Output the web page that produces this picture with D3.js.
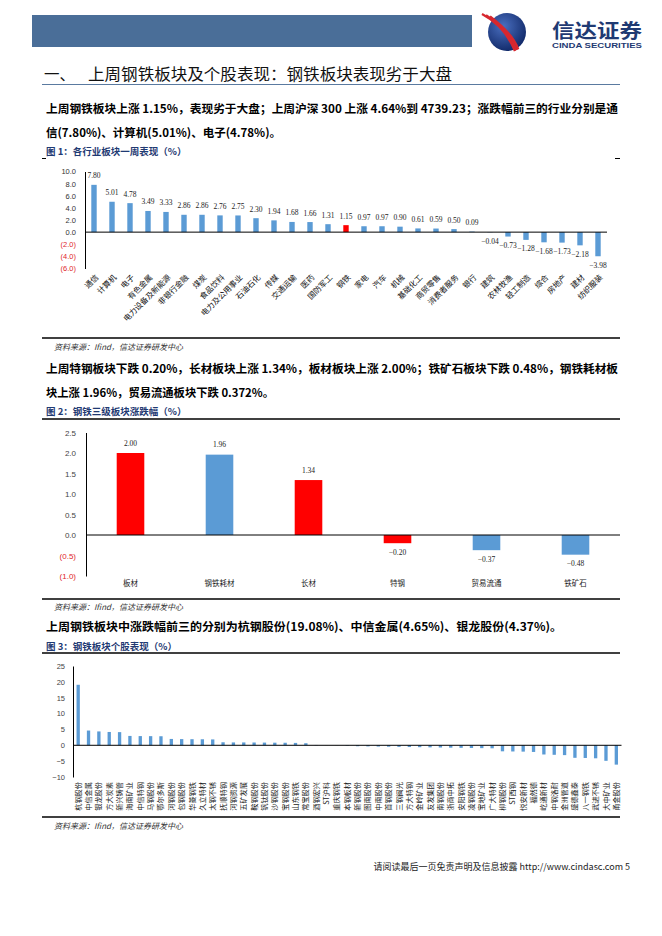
<!DOCTYPE html>
<html>
<head>
<meta charset="utf-8">
<script src="https://cdn.jsdelivr.net/npm/d3@7"></script>
<style>
  body { margin: 0; background: #fff; }
</style>
</head>
<body>
<div class="page"></div>
<script>
// Figure 1: weekly change by industry (%)
var industries = ['通信', '计算机', '电子', '有色金属', '电力设备及新能源', '非银行金融', '煤炭', '食品饮料',
  '电力及公用事业', '石油石化', '传媒', '交通运输', '医药', '国防军工', '钢铁', '家电', '汽车', '机械',
  '基础化工', '商贸零售', '消费者服务', '银行', '建筑', '农林牧渔', '轻工制造', '综合', '房地产', '建材', '纺织服装'];
var industryChange = [7.80, 5.01, 4.78, 3.49, 3.33, 2.86, 2.86, 2.76, 2.75, 2.30, 1.94, 1.68, 1.66, 1.31, 1.15,
  0.97, 0.97, 0.90, 0.61, 0.59, 0.50, 0.09, -0.04, -0.73, -1.28, -1.68, -1.73, -2.18, -3.98];
var industryTicks = [10, 8, 6, 4, 2, 0, -2, -4, -6];
var highlightIndustry = '钢铁';

// Figure 2: steel sub-sectors (%)
var subSectors = ['板材', '钢铁耗材', '长材', '特钢', '贸易流通', '铁矿石'];
var subSectorChange = [2.00, 1.96, 1.34, -0.20, -0.37, -0.48];
var subSectorTicks = [2.5, 2.0, 1.5, 1.0, 0.5, 0, -0.5, -1.0];
var highlightSubSectors = ['板材', '长材', '特钢'];

// Figure 3: individual steel stocks (%)
var stocks = ['杭钢股份', '中信金属', '银龙股份', '方大炭素', '新兴铸管', '海南矿业', '中信特钢', '马钢股份',
  '鄂尔多斯', '河钢股份', '包钢股份', '华菱钢铁', '久立特材', '太钢不锈', '抚顺特钢', '河钢资源', '五矿发展',
  '鞍钢股份', '钒钛股份', '沙钢股份', '宝钢股份', '山东钢铁', '常宝股份', '酒钢宏兴', 'ST沪科', '重庆钢铁',
  '本钢板材', '新钢股份', '图南股份', '中南股份', '首钢股份', '三钢闽光', '方大特钢', '金岭矿业', '友发集团',
  '南钢股份', '浙商中拓', '安阳钢铁', '凌钢股份', '宝地矿业', '广大特材', '柳钢股份', 'ST西钢', '悦安新材',
  '福然德', '屹通新材', '中钢洛耐', '金洲管道', '盛德鑫泰', '八一钢铁', '武进不锈', '大中矿业', '甬金股份'];
var stockChange = [19.08, 4.65, 4.37, 4.20, 4.15, 2.95, 2.90, 2.88, 2.85, 2.00, 1.95, 1.92, 1.90, 1.85,
  0.95, 0.90, 0.90, 0.88, 0.85, 0.82, 0.80, 0.75, 0.65, 0.10, 0.03, -0.05, -0.15, -0.30, -0.35, -0.40,
  -0.45, -0.50, -0.55, -0.60, -0.65, -0.70, -0.75, -0.80, -0.85, -0.90, -0.95, -1.90, -1.95, -2.00,
  -2.10, -2.90, -3.00, -3.10, -3.95, -4.00, -4.10, -4.90, -6.10];
var stockTicks = [25, 20, 15, 10, 5, 0, -5, -10];

var svgWidth = 662;
var svgHeight = 936;
var blue = '#5b9bd5';
var red = '#ff0000';
var navy = '#1f3a73';
var cjk = '"Noto Sans CJK SC", sans-serif';
var serif = '"Liberation Serif", "Times New Roman", serif';
var sans = '"Liberation Sans", Arial, sans-serif';

var svg = d3.select('.page')
  .append('svg')
  .attr('width', svgWidth)
  .attr('height', svgHeight);

svg.append('rect').attr('width', svgWidth).attr('height', svgHeight).attr('fill', '#fff');

function addText(g, x, y, str, size, opts) {
  opts = opts || {};
  var t = g.append('text')
    .attr('x', x)
    .attr('y', y)
    .attr('dominant-baseline', 'central')
    .attr('font-family', opts.family || cjk)
    .attr('font-size', size)
    .attr('font-weight', opts.weight || 'normal')
    .attr('fill', opts.fill || '#000')
    .text(str);
  if (opts.width) t.attr('textLength', opts.width).attr('lengthAdjust', 'spacingAndGlyphs');
  if (opts.anchor) t.attr('text-anchor', opts.anchor);
  if (opts.style) t.attr('font-style', opts.style);
  return t;
}

function hline(y, x1, x2, color, w) {
  svg.append('line')
    .attr('x1', x1).attr('x2', x2)
    .attr('y1', y).attr('y2', y)
    .attr('stroke', color).attr('stroke-width', w);
}

function negFormat(digits) {
  var f = d3.format('.' + digits + 'f');
  return function(v) { return v < 0 ? '(' + f(-v) + ')' : f(v); };
}

// Header band and logo
// ==============================
svg.append('rect')
  .attr('x', 32).attr('y', 15)
  .attr('width', 440).attr('height', 32)
  .attr('fill', '#4a6e98');

var defs = svg.append('defs');
var grad = defs.append('radialGradient').attr('id', 'globe').attr('cx', '40%').attr('cy', '35%').attr('r', '70%');
grad.append('stop').attr('offset', '0%').attr('stop-color', '#4a6fc0');
grad.append('stop').attr('offset', '100%').attr('stop-color', '#0f2766');

var logo = svg.append('g').attr('transform', 'translate(507,32)');
logo.append('circle').attr('r', 19).attr('fill', 'url(#globe)');
[0, 4, 8].forEach(function(o) {
  logo.append('path')
    .attr('d', 'M' + (-25 + o) + ',' + (-18 + o * 0.3) + ' Q' + (-2 + o) + ',' + (-6 + o) + ' ' + (8 + o * 0.4) + ',' + (19 - o * 0.2))
    .attr('fill', 'none')
    .attr('stroke', '#d7282f')
    .attr('stroke-width', 2.4);
});
addText(svg, 552, 29, '信达证券', 19, { weight: 'bold', fill: navy, width: 90 });
addText(svg, 552, 45, 'CINDA SECURITIES', 7, { weight: 'bold', fill: navy, family: sans, width: 90 });

// Section title and text
// ==============================
addText(svg, 44, 73, '一、', 15.5, { fill: '#111' });
addText(svg, 88, 73, '上周钢铁板块及个股表现：钢铁板块表现劣于大盘', 15.5, { fill: '#111', width: 364 });
hline(84.5, 42, 620, '#5a7aa0', 1);

addText(svg, 46, 108, '上周钢铁板块上涨 1.15%，表现劣于大盘；上周沪深 300 上涨 4.64%到 4739.23；涨跌幅前三的行业分别是通', 11.5, { weight: 'bold', width: 572 });
addText(svg, 46, 132, '信(7.80%)、计算机(5.01%)、电子(4.78%)。', 11.5, { weight: 'bold', width: 235 });
addText(svg, 46, 151, '图 1：各行业板块一周表现（%）', 9.5, { weight: 'bold', fill: navy });
hline(158.5, 42, 46, '#000', 1);
hline(158.5, 615, 620, '#000', 1);

// Chart 1
// ==============================
var chart1 = svg.append('g');
var x1 = d3.scaleBand().domain(industries).range([85, 607]).paddingInner(0.7).paddingOuter(0.35);
var y1 = d3.scaleLinear().domain([-6, 10]).range([268.5, 171.5]);
var data1 = industries.map(function(d, i) { return { name: d, value: industryChange[i] }; });

chart1.append('g')
  .attr('transform', 'translate(85,0)')
  .call(d3.axisLeft(y1).tickValues(industryTicks).tickFormat(negFormat(1)).tickSize(0).tickPadding(9))
  .call(function(g) {
    g.select('.domain').attr('stroke', '#000');
    g.selectAll('text')
      .attr('font-family', sans).attr('font-size', 7.5)
      .attr('fill', function(d) { return d < 0 ? '#e0262b' : '#333'; });
  });

chart1.selectAll('.bar1')
  .data(data1)
  .enter()
  .append('rect')
  .attr('x', function(d) { return x1(d.name); })
  .attr('width', x1.bandwidth())
  .attr('y', function(d) { return y1(Math.max(d.value, 0)); })
  .attr('height', function(d) { return Math.abs(y1(d.value) - y1(0)); })
  .attr('fill', function(d) { return d.name === highlightIndustry ? red : blue; });

chart1.append('line')
  .attr('x1', 85).attr('x2', 607)
  .attr('y1', y1(0)).attr('y2', y1(0))
  .attr('stroke', '#000');

chart1.selectAll('.val1')
  .data(data1)
  .enter()
  .append('text')
  .attr('x', function(d) { return x1(d.name) + x1.bandwidth() / 2; })
  .attr('y', function(d) { return d.value >= 0 ? y1(d.value) - 9 : y1(d.value) + 9; })
  .attr('text-anchor', 'middle')
  .attr('dominant-baseline', 'central')
  .attr('font-family', serif).attr('font-size', 7.5).attr('fill', '#222')
  .text(function(d) { return d3.format('.2f')(d.value); });

chart1.append('g')
  .attr('transform', 'translate(0,276)')
  .call(d3.axisBottom(x1).tickSize(0))
  .call(function(g) {
    g.select('.domain').remove();
    g.selectAll('text')
      .attr('x', 0).attr('y', 0).attr('dy', '0.35em')
      .attr('transform', 'translate(3,0) rotate(-45)')
      .attr('text-anchor', 'end')
      .attr('font-family', cjk).attr('font-size', 7.8).attr('fill', '#111');
  });

hline(338, 42, 620, '#000', 1.3);
addText(svg, 54, 346, '资料来源：Ifind，信达证券研发中心', 8, { fill: '#333', style: 'italic' });

// Paragraph 2
// ==============================
addText(svg, 46, 368, '上周特钢板块下跌 0.20%，长材板块上涨 1.34%，板材板块上涨 2.00%；铁矿石板块下跌 0.48%，钢铁耗材板', 11.5, { weight: 'bold', width: 572 });
addText(svg, 46, 392, '块上涨 1.96%，贸易流通板块下跌 0.372%。', 11.5, { weight: 'bold', width: 228 });
addText(svg, 46, 411, '图 2：钢铁三级板块涨跌幅（%）', 9.5, { weight: 'bold', fill: navy });
hline(419, 42, 620, '#000', 1.3);

// Chart 2
// ==============================
var chart2 = svg.append('g');
var x2 = d3.scaleBand().domain(subSectors).range([86, 620]).paddingInner(0.69).paddingOuter(0.345);
var y2 = d3.scaleLinear().domain([-1, 2.5]).range([576, 432.5]);
var data2 = subSectors.map(function(d, i) { return { name: d, value: subSectorChange[i] }; });

chart2.append('g')
  .attr('transform', 'translate(86,0)')
  .call(d3.axisLeft(y2).tickValues(subSectorTicks).tickFormat(negFormat(1)).tickSize(0).tickPadding(10))
  .call(function(g) {
    g.select('.domain').attr('stroke', '#000');
    g.selectAll('text')
      .attr('font-family', sans).attr('font-size', 8)
      .attr('fill', function(d) { return d < 0 ? '#e0262b' : '#444'; });
  });

chart2.selectAll('.bar2')
  .data(data2)
  .enter()
  .append('rect')
  .attr('x', function(d) { return x2(d.name); })
  .attr('width', x2.bandwidth())
  .attr('y', function(d) { return y2(Math.max(d.value, 0)); })
  .attr('height', function(d) { return Math.abs(y2(d.value) - y2(0)); })
  .attr('fill', function(d) { return highlightSubSectors.indexOf(d.name) >= 0 ? red : blue; });

chart2.append('line')
  .attr('x1', 86).attr('x2', 620)
  .attr('y1', y2(0)).attr('y2', y2(0))
  .attr('stroke', '#000');

chart2.selectAll('.val2')
  .data(data2)
  .enter()
  .append('text')
  .attr('x', function(d) { return x2(d.name) + x2.bandwidth() / 2; })
  .attr('y', function(d) { return d.value >= 0 ? y2(d.value) - 10 : y2(d.value) + 9; })
  .attr('text-anchor', 'middle')
  .attr('dominant-baseline', 'central')
  .attr('font-family', serif).attr('font-size', 7.5).attr('fill', '#222')
  .text(function(d) { return d3.format('.2f')(d.value); });

chart2.append('g')
  .attr('transform', 'translate(0,583)')
  .call(d3.axisBottom(x2).tickSize(0))
  .call(function(g) {
    g.select('.domain').remove();
    g.selectAll('text')
      .attr('y', 0).attr('dy', '0.35em')
      .attr('font-family', cjk).attr('font-size', 7.5).attr('fill', '#222');
  });

hline(599, 42, 620, '#000', 1.3);
addText(svg, 54, 606, '资料来源：Ifind，信达证券研发中心', 8, { fill: '#333', style: 'italic' });

// Paragraph 3
// ==============================
addText(svg, 46, 626, '上周钢铁板块中涨跌幅前三的分别为杭钢股份(19.08%)、中信金属(4.65%)、银龙股份(4.37%)。', 11.5, { weight: 'bold', width: 516 });
addText(svg, 46, 646, '图 3：钢铁板块个股表现（%）', 9.5, { weight: 'bold', fill: navy });
hline(653, 42, 620, '#000', 1.3);

// Chart 3
// ==============================
var chart3 = svg.append('g');
var x3 = d3.scaleBand().domain(stocks).range([73, 621.5]).paddingInner(0.68).paddingOuter(0.34);
var y3 = d3.scaleLinear().domain([-10, 25]).range([777, 666]);
var data3 = stocks.map(function(d, i) { return { name: d, value: stockChange[i] }; });

chart3.append('g')
  .attr('transform', 'translate(73,0)')
  .call(d3.axisLeft(y3).tickValues(stockTicks).tickSize(0).tickPadding(8))
  .call(function(g) {
    g.select('.domain').attr('stroke', '#000');
    g.selectAll('text').attr('font-family', sans).attr('font-size', 7.5).attr('fill', '#444');
  });

chart3.selectAll('.bar3')
  .data(data3)
  .enter()
  .append('rect')
  .attr('x', function(d) { return x3(d.name); })
  .attr('width', x3.bandwidth())
  .attr('y', function(d) { return y3(Math.max(d.value, 0)); })
  .attr('height', function(d) { return Math.abs(y3(d.value) - y3(0)); })
  .attr('fill', blue);

chart3.append('line')
  .attr('x1', 73).attr('x2', 621.5)
  .attr('y1', y3(0)).attr('y2', y3(0))
  .attr('stroke', '#000');

chart3.append('g')
  .attr('transform', 'translate(0,782)')
  .call(d3.axisBottom(x3).tickSize(0))
  .call(function(g) {
    g.select('.domain').remove();
    g.selectAll('text')
      .attr('x', 0).attr('y', 0).attr('dy', '0.35em')
      .attr('transform', 'rotate(-90)')
      .attr('text-anchor', 'end')
      .attr('font-family', cjk).attr('font-size', 7.2).attr('fill', '#222');
  });

hline(817, 42, 620, '#000', 1.3);
addText(svg, 54, 825, '资料来源：Ifind，信达证券研发中心', 8, { fill: '#333', style: 'italic' });

// Footer
// ==============================
addText(svg, 630, 866, '请阅读最后一页免责声明及信息披露 http://www.cindasc.com  5', 9, { anchor: 'end', fill: '#222' });
</script>
</body>
</html>
